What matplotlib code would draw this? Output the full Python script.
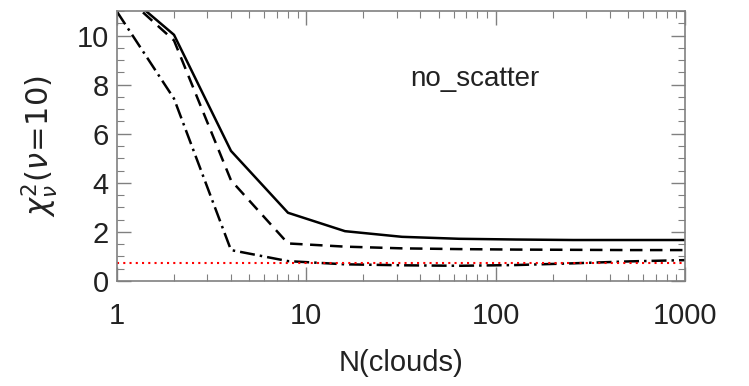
import numpy as np
import matplotlib
matplotlib.use('Agg')
import matplotlib.pyplot as plt
from matplotlib.ticker import MultipleLocator, FixedLocator, FixedFormatter

# Data
n_clouds = [1, 2, 4, 8, 16, 32, 64, 128, 256, 512, 1000]
chi_solid = [12.0, 10.03, 5.3, 2.78, 2.03, 1.8, 1.72, 1.69, 1.67, 1.67, 1.67]
chi_dashed = [11.9, 9.8, 4.1, 1.53, 1.4, 1.33, 1.3, 1.28, 1.27, 1.26, 1.26]
chi_dashdot = [10.97, 7.43, 1.26, 0.81, 0.68, 0.64, 0.62, 0.65, 0.72, 0.8, 0.85]
ref_level = 0.75

plt.rcParams['font.family'] = ['Liberation Sans', 'DejaVu Sans']
plt.rcParams['mathtext.fontset'] = 'dejavusans'

fig = plt.figure(figsize=(7.49, 3.86), dpi=100)
ax = fig.add_axes([117/749, 1 - 281/386, 568/749, 270/386])

ax.plot(n_clouds, chi_solid, color='black', lw=1.8, ls='-')
ax.plot(n_clouds, chi_dashed, color='black', lw=1.8, ls=(0, (5, 3)))
ax.plot(n_clouds, chi_dashdot, color='black', lw=1.8, ls=(0, (6, 2, 1, 2)))
ax.axhline(ref_level, color='red', lw=1.5, ls=(0, (1, 2)))

ax.set_xscale('log')
ax.set_xlim(1, 1000)
ax.set_ylim(0, 11)
ax.yaxis.set_major_locator(MultipleLocator(2))
ax.yaxis.set_minor_locator(MultipleLocator(0.5))
ax.xaxis.set_major_locator(FixedLocator([1, 10, 100, 1000]))
ax.xaxis.set_major_formatter(FixedFormatter(['1', '10', '100', '1000']))

ax.tick_params(which='both', direction='in', top=True, right=True,
               color='#808080', labelsize=21, labelcolor='#222222')
ax.tick_params(which='major', length=10, width=1)
ax.tick_params(which='minor', length=5, width=0.8)
ax.tick_params(axis='x', pad=15)
ax.tick_params(axis='y', pad=6)
for s in ax.spines.values():
    s.set_color('#808080')
    s.set_linewidth(1.2)

ax.set_xlabel('N(clouds)', fontsize=21, labelpad=14, color='#222222')
ax.set_ylabel(r'$\chi^2_\nu(\nu\!=\!10)$', fontsize=22, labelpad=12,
              color='#222222')
ax.text(0.63, 0.75, 'no_scatter', transform=ax.transAxes, fontsize=20,
        ha='center', va='center', color='#222222')

plt.savefig('out.png', dpi=100)
